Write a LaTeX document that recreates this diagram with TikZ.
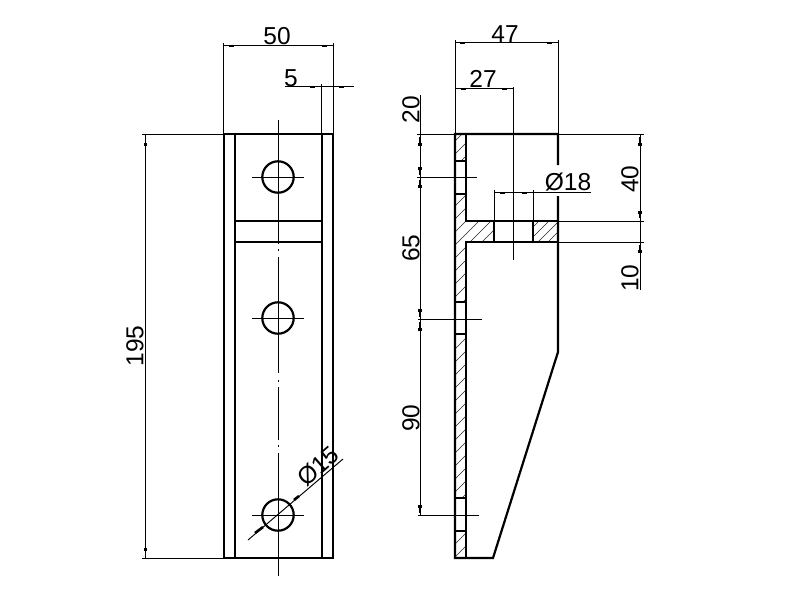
\documentclass[tikz,border=0pt]{standalone}
\usepackage{fontspec}
\setmainfont{Liberation Sans}
\tikzset{
 part/.style={line width=2.2pt,line cap=butt},
 thin line/.style={line width=0.95pt},
 hatchline/.style={line width=0.55pt,black!85},
 tick/.style={line width=2.2pt},
 dimtext/.style={inner sep=0pt,font=\fontsize{24.5}{24.5}\selectfont},
 centre/.style={line width=0.95pt}
}
% vertical arrowhead: x, tip y, wide end y, direction of the wide part
\newcommand{\vhead}[4]{%
 \draw[line width=1.7pt] (#1,#2) -- (#1,#3);
 \draw[line width=3.2pt] (#1,#3) -- (#1,#3+#4);
}
\begin{document}
\begin{tikzpicture}[x=1pt,y=-1pt]
\useasboundingbox (0,0) rectangle (800,600);
\fill[white] (0,0) rectangle (800,600);
\coordinate (h1) at (278,177);
\coordinate (h2) at (278,318);
\coordinate (h3) at (278,515);
% ---- hatching
\foreach \ya/\yb in {134/161,194/302,334/498,531/558}{
 \begin{scope}
 \clip (455,\ya) rectangle (466,\yb);
 \foreach \k in {0,13,...,700}{\draw[hatchline] (440,\k+130) -- (480,\k+90);}
 \end{scope}}
\begin{scope}
 \clip (466,221) rectangle (494,242);
 \foreach \k in {0,12,...,150}{\draw[hatchline] (440+\k,260) -- (500+\k,200);}
\end{scope}
\begin{scope}
 \clip (533,221) rectangle (558,242);
 \foreach \k in {0,10,...,90}{\draw[hatchline] (490+\k,260) -- (550+\k,200);}
\end{scope}
% ---- front view
\draw[part] (224,134) rectangle (333,558);
\draw[part] (235,134) -- (235,558);
\draw[part] (322,134) -- (322,558);
\draw[part] (235,221) -- (322,221);
\draw[part] (235,242) -- (322,242);
\foreach \c in {h1,h2,h3}{
 \draw[part] (\c) circle (15.7);
 \draw[thin line] ([xshift=-26]\c) -- ([xshift=26]\c);
}
\draw[centre] (278,120) -- (278,244);
\draw[centre] (278,249) -- (278,251);
\draw[centre] (278,257) -- (278,373);
\draw[centre] (278,380) -- (278,382);
\draw[centre] (278,387) -- (278,440);
\draw[centre] (278,445) -- (278,447);
\draw[centre] (278,453) -- (278,576);
% ---- side view
\draw[part] (558,165) -- (558,134) -- (455,134) -- (455,558) -- (493,558) -- (558,352) -- (558,196);
\draw[part] (466,134) -- (466,221) -- (558,221);
\draw[part] (466,558) -- (466,242) -- (558,242);
\draw[part] (494,221) -- (494,242);
\draw[part] (533,221) -- (533,242);
\foreach \y in {161,194,302,334,498,531}{\draw[part] (455,\y) -- (466,\y);}
\draw[centre] (513,87) -- (513,260);
% ---- dimension 50
\draw[thin line] (223,43) -- (223,134);
\draw[thin line] (333,43) -- (333,134);
\draw[thin line] (223,45) -- (333,45);
\draw[tick] (229,46) -- (234,46);
\draw[tick] (322,46) -- (327,46);
\node[dimtext] at (277,36) {50};
% ---- dimension 5
\draw[thin line] (285,86) -- (354,86);
\draw[thin line] (321,84) -- (321,134);
\draw[tick] (310,87) -- (315,87);
\draw[tick] (339,87) -- (344,87);
\node[dimtext] at (291,78) {5};
% ---- dimension 195
\draw[thin line] (142,134) -- (224,134);
\draw[thin line] (142,558) -- (224,558);
\draw[thin line] (145.5,134) -- (145.5,558);
\vhead{145.5}{137}{143}{3}
\vhead{145.5}{556}{551}{-3}
\node[dimtext,rotate=90] at (135,346) {195};
% ---- dimension 15
\draw[thin line] (248,540) -- (343,459);
\draw[line width=2.6pt] (255,533) -- (263,527);
\draw[line width=2.6pt] (294,500) -- (299,496);
\node[dimtext,rotate=41] at (318,466) {Ø15};
% ---- dimensions 47, 27
\draw[thin line] (455,40) -- (455,134);
\draw[thin line] (558,40) -- (558,134);
\draw[thin line] (455,42) -- (558,42);
\draw[tick] (460,43) -- (465,43);
\draw[tick] (547,43) -- (552,43);
\node[dimtext] at (505,34) {47};
\draw[thin line] (455,88) -- (513,88);
\draw[tick] (461,89) -- (466,89);
\draw[tick] (502,89) -- (507,89);
\node[dimtext] at (483,78.5) {27};
% ---- left chain 20, 65, 90
\draw[thin line] (420,95) -- (420,515);
\draw[thin line] (417,134) -- (455,134);
\draw[thin line] (417,177) -- (477,177);
\draw[thin line] (418,319) -- (482,319);
\draw[thin line] (418,515) -- (479,515);
\vhead{420}{137}{143}{3}
\vhead{420}{175}{170}{-3}
\vhead{420}{180}{185}{3}
\vhead{420}{317}{312}{-3}
\vhead{420}{322}{328}{3}
\vhead{420}{513}{508}{-3}
\node[dimtext,rotate=90] at (411,109.5) {20};
\node[dimtext,rotate=90] at (411,248) {65};
\node[dimtext,rotate=90] at (411,418) {90};
% ---- dimension 18
\draw[thin line] (494,192) -- (591,192);
\draw[thin line] (494,190) -- (494,221);
\draw[thin line] (533,190) -- (533,221);
\draw[tick] (500,193) -- (505,193);
\draw[tick] (522,193) -- (527,193);
\node[dimtext] at (568,182.5) {Ø18};
% ---- right chain 40, 10
\draw[thin line] (640,134) -- (640,290);
\draw[thin line] (558,134) -- (644,134);
\draw[thin line] (558,221) -- (644,221);
\draw[thin line] (558,242) -- (644,242);
\vhead{640}{137}{143}{3}
\vhead{640}{218}{214}{-3}
\vhead{640}{245}{250}{3}
\node[dimtext,rotate=90] at (630,179) {40};
\node[dimtext,rotate=90] at (630,278) {10};
\end{tikzpicture}
\end{document}
